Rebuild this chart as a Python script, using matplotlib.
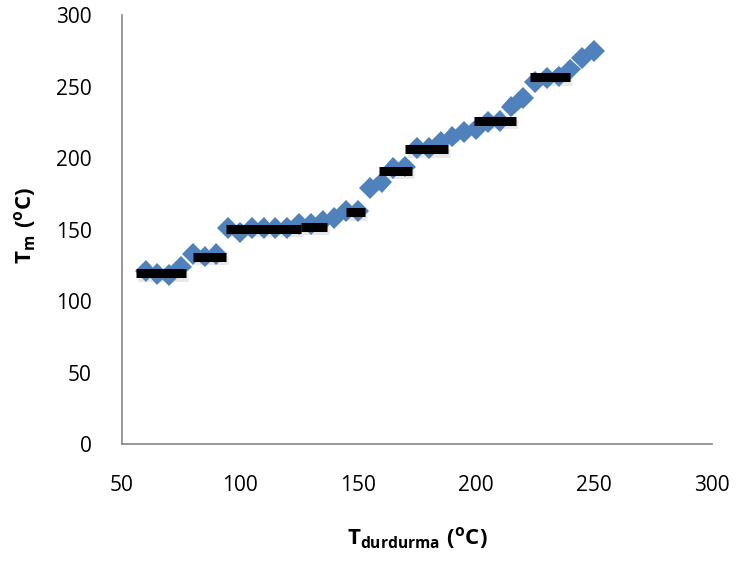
import numpy as np
import matplotlib
matplotlib.use('Agg')
import matplotlib.pyplot as plt
import matplotlib.patheffects as pe

plt.rcParams['font.family'] = ['Open Sans', 'DejaVu Sans']
plt.rcParams['mathtext.fontset'] = 'custom'
plt.rcParams['mathtext.rm'] = 'Open Sans'
plt.rcParams['mathtext.bf'] = 'Open Sans:bold'

# olcum noktalari (T_durdurma, T_m)
t_durdurma = [60, 65, 70, 75, 80, 85, 90, 95, 100, 105, 110, 115, 120, 125, 130,
              135, 140, 145, 150, 155, 160, 165, 170, 175, 180, 185, 190, 195,
              200, 205, 210, 215, 220, 225, 230, 235, 240, 245, 250]
t_m = [121, 119, 118, 124, 133, 131, 133, 151, 148, 151, 151, 151, 151, 154, 154,
       156, 158, 163, 163, 179, 183, 193, 194, 207, 207, 211, 215, 218,
       220, 225, 226, 236, 242, 253, 256, 257, 262, 270, 275]

# siyah plato cizgileri
plato_bas = [56, 80, 94, 126, 145, 159, 170, 199, 223]
plato_son = [77, 94, 126, 137, 153, 173, 188, 217, 240]
plato_y = [119.5, 131, 150.5, 152, 162, 191, 206, 226, 256.5]

fig = plt.figure(figsize=(7.39, 5.61), dpi=100)
ax = fig.add_axes([122 / 739, 1 - 444 / 561, 590 / 739, 429 / 561])

ax.plot(t_durdurma, t_m, linestyle='none', marker='D', markersize=11,
        color='#4F81BD', markeredgewidth=0,
        path_effects=[pe.SimpleLineShadow(offset=(1, -1.5), shadow_color='gray', alpha=0.2), pe.Normal()],
        zorder=2)

for x0, x1, y in zip(plato_bas, plato_son, plato_y):
    ax.plot([x0, x1], [y, y], color='black', linewidth=6.5, solid_capstyle='butt',
            path_effects=[pe.SimpleLineShadow(offset=(1.5, -2.5), shadow_color='gray', alpha=0.18), pe.Normal()],
            zorder=3)

ax.set_xlim(50, 300)
ax.set_ylim(0, 300)
ax.set_xticks(np.arange(50, 301, 50))
ax.set_yticks(np.arange(0, 301, 50))
ax.tick_params(length=0, labelsize=15, labelcolor='black')
ax.tick_params(axis='y', pad=22)
ax.tick_params(axis='x', pad=22)

for s in ['top', 'right']:
    ax.spines[s].set_visible(False)
for s in ['left', 'bottom']:
    ax.spines[s].set_color('#868686')
    ax.spines[s].set_linewidth(1.2)

fig.text(25 / 739, 1 - 225 / 561, r'$\mathbf{T_{m}\ (^{o}C)}$', rotation=90,
         ha='center', va='center', fontsize=16)
fig.text(417 / 739, 1 - 538 / 561, r'$\mathbf{T_{durdurma}\ (^{o}C)}$',
         ha='center', va='center', fontsize=16)

fig.savefig('out.png', dpi=100)
